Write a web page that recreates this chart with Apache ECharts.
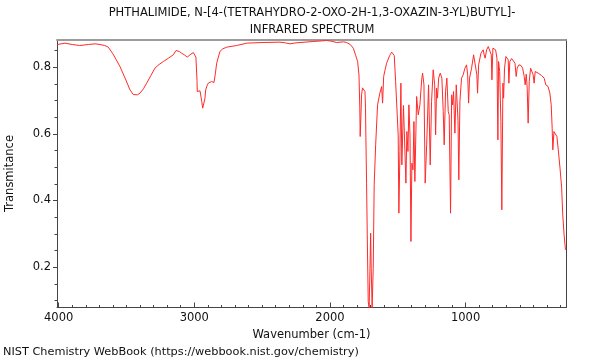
<!DOCTYPE html>
<html>
<head>
<meta charset="utf-8">
<script src="https://cdn.jsdelivr.net/npm/echarts@6/dist/echarts.min.js"></script>
<style>html,body{margin:0;padding:0;background:#fff}#c{width:600px;height:360px}</style>
</head>
<body>
<div id="c"></div>
<script>
var titleLines = ['PHTHALIMIDE, N-[4-(TETRAHYDRO-2-OXO-2H-1,3-OXAZIN-3-YL)BUTYL]-', 'INFRARED SPECTRUM'];
var xName = 'Wavenumber (cm-1)';
var yName = 'Transmitance';
var footer = 'NIST Chemistry WebBook (https://webbook.nist.gov/chemistry)';

var xMajorTicks = [1000, 2000, 3000, 4000];
var xMinorTicks = [300, 400, 500, 600, 700, 800, 900, 1100, 1200, 1300, 1400, 1500, 1600, 1700, 1800, 1900,
  2100, 2200, 2300, 2400, 2500, 2600, 2700, 2800, 2900, 3100, 3200, 3300, 3400, 3500, 3600, 3700, 3800, 3900];
var yMajorTicks = [0.2, 0.4, 0.6, 0.8];
var yMinorTicks = [0.1, 0.15, 0.25, 0.3, 0.35, 0.45, 0.5, 0.55, 0.65, 0.7, 0.75, 0.85];

var wavenumbers = [
  4010, 3953, 3900, 3845, 3840, 3835, 3780, 3732, 3695, 3660, 3634, 3600, 3575, 3548, 3510, 3474, 3450, 3437, 3420, 3400,
  3375, 3351, 3320, 3290, 3260, 3228, 3190, 3155, 3135, 3110, 3093, 3070, 3052, 3032, 3007, 2995, 2988, 2980, 2978, 2965,
  2958, 2950, 2945, 2938, 2929, 2922, 2916, 2905, 2897, 2872, 2855, 2845, 2835, 2811, 2790, 2761, 2688, 2614, 2500, 2369,
  2330, 2295, 2250, 2123, 2024, 1990, 1951, 1900, 1877, 1850, 1828, 1810, 1796, 1786, 1780, 1777, 1772, 1767, 1760, 1755,
  1748, 1742, 1738, 1735, 1730, 1725, 1718, 1711, 1705, 1700, 1696, 1689, 1681, 1674, 1663, 1649, 1632, 1619, 1612, 1604,
  1595, 1582, 1560, 1545, 1535, 1526, 1516, 1506, 1497, 1492, 1484, 1477, 1470, 1458, 1440, 1433, 1425, 1418, 1410, 1403,
  1396, 1388, 1381, 1374, 1361, 1349, 1337, 1324, 1317, 1307, 1298, 1287, 1273, 1261, 1251, 1239, 1228, 1221, 1214, 1207,
  1199, 1187, 1175, 1165, 1158, 1148, 1138, 1128, 1121, 1111, 1103, 1096, 1089, 1079, 1069, 1056, 1050, 1042, 1030, 1018,
  1005, 993, 985, 978, 971, 956, 941, 927, 917, 912, 904, 887, 870, 863, 856, 845, 833, 819, 811, 806,
  799, 789, 779, 769, 762, 757, 749, 740, 733, 725, 720, 713, 703, 693, 686, 681, 674, 661, 649, 636,
  627, 620, 607, 592, 580, 568, 561, 553, 546, 539, 531, 521, 512, 502, 495, 487, 465, 440, 421, 409,
  392, 379, 369, 362, 357, 349, 339, 327, 317, 304, 292, 284, 274, 264
];
var transmittance = [
  0.868, 0.872, 0.868, 0.865, 0.870, 0.865, 0.868, 0.870, 0.868, 0.865, 0.860, 0.840, 0.822, 0.802, 0.767, 0.732, 0.718, 0.715, 0.717, 0.722,
  0.735, 0.752, 0.775, 0.797, 0.808, 0.817, 0.827, 0.837, 0.850, 0.847, 0.842, 0.836, 0.830, 0.837, 0.844, 0.840, 0.830, 0.760, 0.727, 0.726,
  0.729, 0.710, 0.697, 0.677, 0.682, 0.705, 0.732, 0.745, 0.752, 0.757, 0.754, 0.780, 0.812, 0.847, 0.855, 0.860, 0.865, 0.872, 0.874, 0.875,
  0.873, 0.870, 0.873, 0.877, 0.880, 0.878, 0.874, 0.876, 0.874, 0.868, 0.857, 0.835, 0.817, 0.777, 0.680, 0.592, 0.650, 0.717, 0.738, 0.742,
  0.738, 0.727, 0.680, 0.588, 0.450, 0.297, 0.097, 0.078, 0.197, 0.302, 0.197, 0.078, 0.197, 0.447, 0.567, 0.687, 0.722, 0.742, 0.692, 0.772,
  0.790, 0.812, 0.835, 0.845, 0.842, 0.835, 0.757, 0.757, 0.597, 0.362, 0.547, 0.752, 0.507, 0.685, 0.452, 0.607, 0.547, 0.687, 0.597, 0.277,
  0.512, 0.492, 0.637, 0.457, 0.712, 0.657, 0.687, 0.762, 0.782, 0.747, 0.452, 0.567, 0.747, 0.507, 0.697, 0.792, 0.747, 0.597, 0.737, 0.707,
  0.767, 0.782, 0.767, 0.667, 0.567, 0.727, 0.767, 0.667, 0.657, 0.362, 0.717, 0.687, 0.727, 0.602, 0.747, 0.640, 0.462, 0.697, 0.767, 0.777,
  0.797, 0.807, 0.777, 0.692, 0.767, 0.797, 0.837, 0.832, 0.777, 0.722, 0.807, 0.842, 0.852, 0.837, 0.827, 0.852, 0.862, 0.865, 0.837, 0.762,
  0.857, 0.862, 0.852, 0.827, 0.582, 0.817, 0.787, 0.637, 0.372, 0.752, 0.707, 0.797, 0.832, 0.829, 0.822, 0.752, 0.817, 0.826, 0.822, 0.812,
  0.772, 0.797, 0.807, 0.805, 0.797, 0.772, 0.747, 0.779, 0.737, 0.632, 0.757, 0.797, 0.792, 0.777, 0.752, 0.787, 0.782, 0.775, 0.767, 0.747,
  0.742, 0.722, 0.687, 0.617, 0.552, 0.607, 0.612, 0.592, 0.552, 0.497, 0.437, 0.357, 0.297, 0.252
];

var X_MIN = 260, X_MAX = 4012, Y_MIN = 0.079, Y_MAX = 0.883;
var FONT = 'DejaVu Sans';
var FS = 11.5;

var seriesData = wavenumbers.map(function (w, i) { return [w, transmittance[i]]; });

var chart = echarts.init(document.getElementById('c'), null, { renderer: 'canvas' });
chart.setOption({
  animation: false,
  backgroundColor: '#fff',
  textStyle: { fontFamily: FONT },
  title: [
    { text: titleLines.join('\n'), left: 312, top: 5, padding: 0, textAlign: 'center',
      textStyle: { fontFamily: FONT, fontSize: FS, fontWeight: 'normal', color: '#111', lineHeight: 17 } },
    { text: footer, left: 3, top: 347, padding: 0,
      textStyle: { fontFamily: FONT, fontSize: 11.3, fontWeight: 'normal', color: '#111' } }
  ],
  grid: { left: 57, right: 34, top: 39.5, bottom: 52.5, containLabel: false, outerBoundsMode: 'none' },
  xAxis: [
    { type: 'value', min: X_MIN, max: X_MAX, inverse: true, position: 'bottom',
      name: xName, nameLocation: 'middle', nameGap: 17,
      nameTextStyle: { fontFamily: FONT, fontSize: FS, color: '#111' },
      axisLine: { show: true, lineStyle: { color: '#444', width: 1 } },
      axisTick: { show: true, inside: true, length: 5, customValues: xMajorTicks, lineStyle: { color: '#444' } },
      axisLabel: { show: true, customValues: xMajorTicks, margin: 5, fontFamily: FONT, fontSize: FS, color: '#111',
        formatter: function (v) { return String(Math.round(v)); } },
      splitLine: { show: false } },
    { type: 'value', min: X_MIN, max: X_MAX, inverse: true, position: 'bottom',
      axisLine: { show: false },
      axisTick: { show: true, inside: true, length: 2.5, customValues: xMinorTicks, lineStyle: { color: '#444' } },
      axisLabel: { show: false }, splitLine: { show: false } },
    { type: 'value', min: X_MIN, max: X_MAX, inverse: true, position: 'top',
      axisLine: { show: true, lineStyle: { color: '#9c9c9c', width: 2 } },
      axisTick: { show: false }, axisLabel: { show: false }, splitLine: { show: false } }
  ],
  yAxis: [
    { type: 'value', min: Y_MIN, max: Y_MAX, position: 'left',
      name: yName, nameLocation: 'middle', nameGap: 41, nameRotate: 90,
      nameTextStyle: { fontFamily: FONT, fontSize: FS, color: '#111' },
      axisLine: { show: true, lineStyle: { color: '#444', width: 1 } },
      axisTick: { show: true, inside: false, length: 4, customValues: yMajorTicks, lineStyle: { color: '#444' } },
      axisLabel: { show: true, customValues: yMajorTicks, margin: 6, fontFamily: FONT, fontSize: FS, color: '#111',
        formatter: function (v) { return v.toFixed(1); } },
      splitLine: { show: false } },
    { type: 'value', min: Y_MIN, max: Y_MAX, position: 'left',
      axisLine: { show: false },
      axisTick: { show: true, inside: false, length: 2.5, customValues: yMinorTicks, lineStyle: { color: '#444' } },
      axisLabel: { show: false }, splitLine: { show: false } },
    { type: 'value', min: Y_MIN, max: Y_MAX, position: 'right',
      axisLine: { show: true, lineStyle: { color: '#444', width: 1 } },
      axisTick: { show: false }, axisLabel: { show: false }, splitLine: { show: false } }
  ],
  series: [
    { type: 'line', xAxisIndex: 0, yAxisIndex: 0, data: seriesData, showSymbol: false, symbol: 'none',
      sampling: null, clip: true, smooth: false,
      lineStyle: { color: '#ff2a2a', width: 1 }, itemStyle: { color: '#ff2a2a' } }
  ]
});
</script>
</body>
</html>
